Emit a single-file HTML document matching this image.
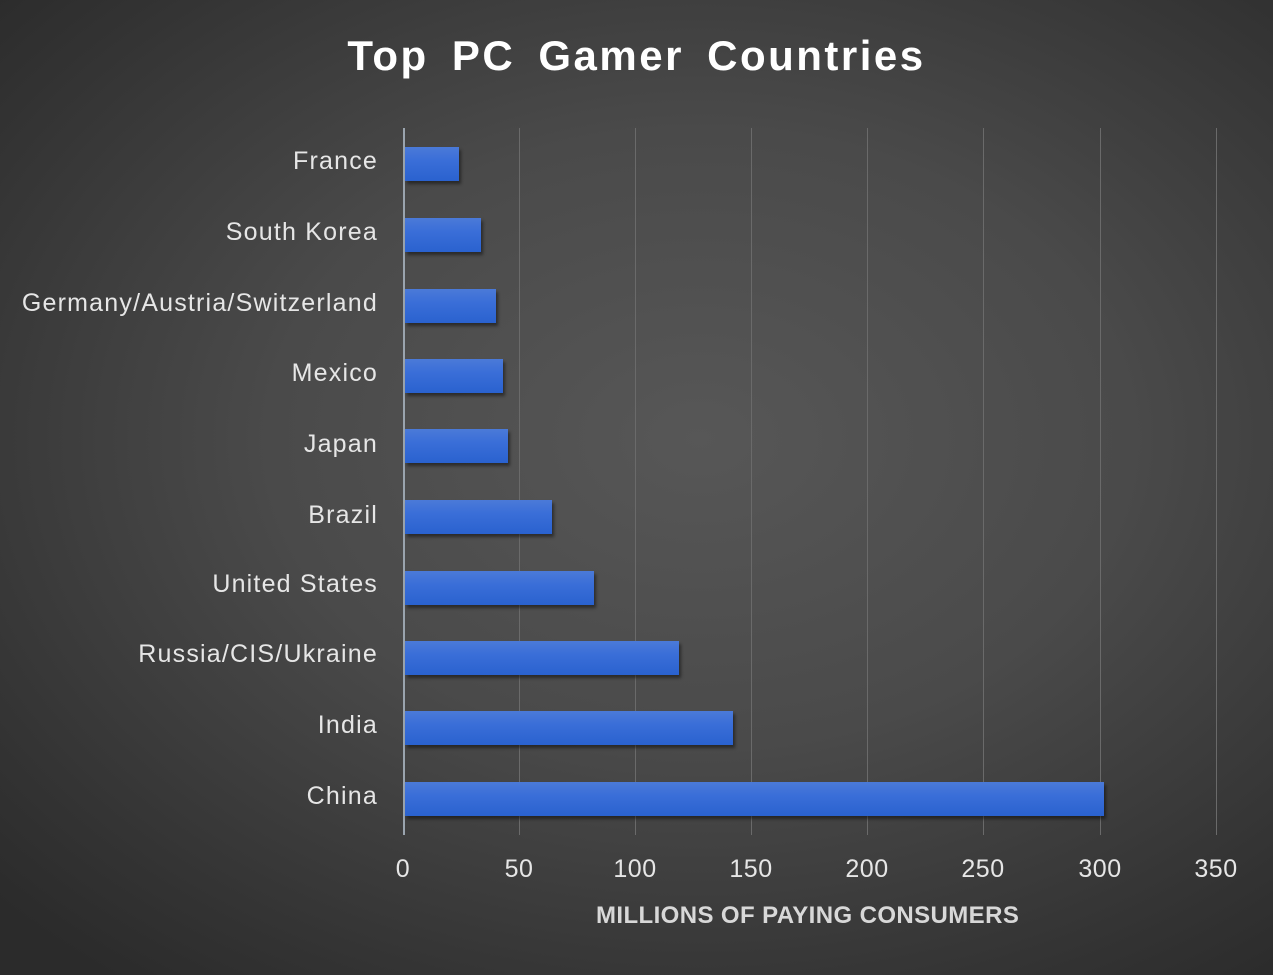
<!DOCTYPE html>
<html><head><style>
html,body{margin:0;padding:0}
body{width:1273px;height:975px;overflow:hidden;position:relative;
background:radial-gradient(ellipse 75% 70% at 55% 45%,#575757 0%,#4a4a4a 45%,#333 85%,#2b2b2b 100%);
font-family:"Liberation Sans",sans-serif;color:#e8e8e8}
.t{position:absolute;top:32px;left:0;width:1273px;text-align:center;font-size:42px;font-weight:bold;color:#fff;letter-spacing:2.5px;word-spacing:9px}
.g{position:absolute;top:128px;height:707px;width:1px;background:#6a6a6a}
.ax{position:absolute;left:403px;top:128px;height:707px;width:2px;background:#9aa4ae}
.b{position:absolute;left:405px;height:34px;background:linear-gradient(#4b7ad8,#3a6ed8 40%,#2a62cf);box-shadow:2px 3px 3px rgba(0,0,0,.45)}
.l{position:absolute;right:895px;font-size:25px;color:#e6e6e6;text-align:right;white-space:nowrap;letter-spacing:1.2px}
.x{position:absolute;top:855px;font-size:25px;width:80px;text-align:center;color:#e6e6e6;letter-spacing:0.5px}
.xt{position:absolute;top:902px;left:596px;font-size:24px;font-weight:bold;color:#d8d8d8;letter-spacing:0.4px}
</style></head><body>
<div class="t">Top PC Gamer Countries</div>
<div class="g" style="left:519px"></div><div class="g" style="left:635px"></div>
<div class="g" style="left:751px"></div><div class="g" style="left:867px"></div>
<div class="g" style="left:983px"></div><div class="g" style="left:1100px"></div>
<div class="g" style="left:1216px"></div>
<div class="ax"></div>
<div class="b" style="top:147px;width:54px"></div>
<div class="b" style="top:218px;width:76px"></div>
<div class="b" style="top:289px;width:91px"></div>
<div class="b" style="top:359px;width:98px"></div>
<div class="b" style="top:429px;width:103px"></div>
<div class="b" style="top:500px;width:147px"></div>
<div class="b" style="top:571px;width:189px"></div>
<div class="b" style="top:641px;width:274px"></div>
<div class="b" style="top:711px;width:328px"></div>
<div class="b" style="top:782px;width:699px"></div>
<div class="l" style="top:147px">France</div>
<div class="l" style="top:218px">South Korea</div>
<div class="l" style="top:289px">Germany/Austria/Switzerland</div>
<div class="l" style="top:359px">Mexico</div>
<div class="l" style="top:430px">Japan</div>
<div class="l" style="top:501px">Brazil</div>
<div class="l" style="top:570px">United States</div>
<div class="l" style="top:640px">Russia/CIS/Ukraine</div>
<div class="l" style="top:711px">India</div>
<div class="l" style="top:782px">China</div>
<div class="x" style="left:363px">0</div><div class="x" style="left:479px">50</div>
<div class="x" style="left:595px">100</div><div class="x" style="left:711px">150</div>
<div class="x" style="left:827px">200</div><div class="x" style="left:943px">250</div>
<div class="x" style="left:1060px">300</div><div class="x" style="left:1176px">350</div>
<div class="xt">MILLIONS OF PAYING CONSUMERS</div>
</body></html>
